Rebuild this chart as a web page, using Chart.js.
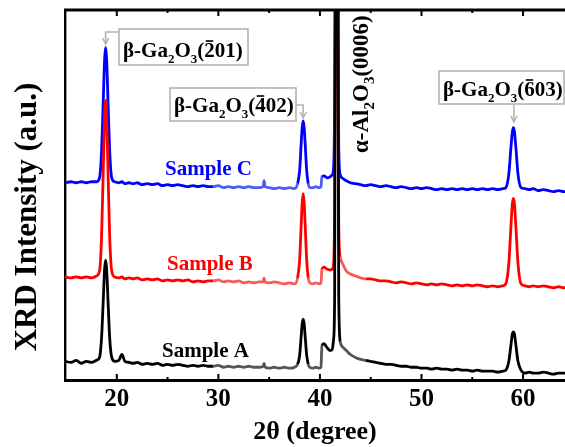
<!DOCTYPE html>
<html>
<head>
<meta charset="utf-8">
<script src="https://cdn.jsdelivr.net/npm/chart.js@4"></script>
<style>
  html, body { margin: 0; padding: 0; background: #fff; overflow: hidden; }
  canvas { display: block; }
</style>
</head>
<body>
<canvas id="xrd" width="565" height="447"></canvas>
<script>
// 2-theta positions (degree), shared by the three scans
const twoTheta = [
  14.9, 15.5, 16.0, 16.5, 17.0, 17.5, 18.0, 18.3, 18.5, 18.65,
  18.8, 18.9, 19.0, 19.15, 19.3, 19.5, 19.8, 20.2, 20.5, 20.8,
  21.2, 21.6, 22.0, 22.5, 23.0, 23.5, 24.0, 24.5, 25.0, 25.5,
  26.0, 26.5, 27.0, 27.5, 28.0, 28.5, 29.0, 29.5, 30.0, 30.5,
  31.0, 31.5, 32.0, 32.5, 33.0, 33.5, 34.0, 34.4, 34.5, 34.6,
  35.0, 35.5, 36.0, 36.5, 37.0, 37.5, 37.8, 38.0, 38.15, 38.25,
  38.35, 38.45, 38.55, 38.7, 38.85, 39.0, 39.3, 39.6, 39.9, 40.1,
  40.2, 40.4, 40.7, 41.0, 41.2, 41.35, 41.45, 41.55, 41.65, 41.75,
  41.85, 42.0, 42.3, 42.6, 43.0, 43.5, 44.0, 44.5, 45.0, 45.5,
  46.0, 46.5, 47.0, 47.5, 48.0, 48.5, 49.0, 49.5, 50.0, 50.5,
  51.0, 51.5, 52.0, 52.5, 53.0, 53.5, 54.0, 54.5, 55.0, 55.5,
  56.0, 56.5, 57.0, 57.5, 58.0, 58.3, 58.6, 58.8, 58.95, 59.05,
  59.15, 59.3, 59.5, 59.8, 60.2, 60.6, 61.0, 61.5, 62.0, 62.5,
  63.0, 63.5, 64.0, 64.5
];

// intensities (a.u., already offset per sample)
const sampleC = [
  201, 202, 201, 202, 201, 202, 202, 206, 233, 279,
  327, 339, 327, 279, 233, 206, 202, 201, 202, 200,
  201, 200, 201, 199, 200, 199, 200, 198, 199, 198,
  199, 198, 197, 198, 197, 198, 197, 197, 198, 196,
  197, 196, 197, 196, 197, 196, 196, 197, 203, 197,
  196, 195, 196, 195, 196, 195, 200, 213, 240, 257,
  264, 257, 240, 213, 200, 196, 196, 197, 196, 197,
  207, 208, 206, 207, 209, 217, 287, 537, 687, 487,
  237, 209, 205, 203, 201, 200, 199, 198, 199, 198,
  197, 198, 197, 196, 197, 196, 195, 196, 195, 196,
  195, 194, 195, 194, 195, 194, 195, 194, 195, 194,
  195, 194, 195, 194, 195, 196, 210, 236, 253, 257,
  253, 236, 210, 196, 195, 194, 195, 193, 194, 193,
  192, 193, 192, 192
];
const sampleB = [
  105, 104, 105, 104, 105, 104, 106, 111, 146, 206,
  269, 285, 269, 206, 146, 111, 105, 104, 105, 103,
  104, 103, 104, 102, 103, 102, 103, 101, 102, 101,
  102, 101, 102, 100, 101, 100, 101, 101, 102, 100,
  101, 100, 101, 99, 100, 99, 100, 100, 104, 100,
  99, 100, 99, 98, 99, 98, 104, 122, 157, 180,
  190, 180, 157, 122, 104, 99, 98, 99, 98, 99,
  113, 115, 113, 112, 113, 119, 187, 487, 637, 437,
  157, 125, 117, 111, 108, 106, 104, 103, 103, 102,
  101, 101, 100, 99, 100, 99, 98, 99, 98, 97,
  98, 97, 98, 97, 96, 97, 96, 97, 96, 97,
  96, 95, 96, 95, 96, 98, 119, 155, 180, 185,
  180, 155, 119, 98, 96, 95, 96, 95, 96, 95,
  94, 95, 94, 95
];
const sampleA = [
  19, 18, 20, 17, 19, 18, 20, 23, 43, 77,
  113, 122, 113, 77, 43, 23, 19, 20, 26, 19,
  18, 17, 18, 16, 17, 16, 17, 15, 16, 15,
  16, 15, 14, 15, 14, 15, 14, 14, 15, 13,
  14, 13, 14, 13, 14, 13, 13, 14, 17, 13,
  12, 13, 12, 13, 12, 13, 16, 25, 44, 57,
  62, 57, 44, 25, 16, 13, 12, 13, 12, 13,
  35, 37, 33, 30, 31, 42, 87, 587, 787, 537,
  87, 39, 33, 30, 26, 23, 21, 20, 19, 18,
  17, 16, 16, 15, 14, 14, 13, 13, 12, 12,
  11, 12, 11, 11, 10, 11, 10, 10, 9, 10,
  9, 9, 9, 8, 9, 10, 19, 35, 47, 49,
  47, 35, 19, 10, 7, 8, 7, 7, 8, 7,
  6, 7, 7, 7
];

const tickValues = [20, 30, 40, 50, 60];
const minorTickValues = [15, 25, 35, 45, 55];
const sampleLabels = ['Sample A', 'Sample B', 'Sample C'];

// parts of the scan drawn in a lighter shade
const lightRanges = [[29.5, 37.8], [38.85, 40.2], [42.0, 44.5]];

const SERIF = '"Liberation Serif", "Times New Roman", serif';

function isLight(x, ranges) {
  return ranges.some(r => x >= r[0] && x < r[1]);
}

function makeSet(label, values, color, light, order, ranges) {
  return {
    label: label,
    data: twoTheta.map((t, i) => ({ x: t, y: values[i] })),
    borderColor: color,
    borderWidth: 2.8,
    pointRadius: 0,
    cubicInterpolationMode: 'monotone',
    order: order,
    segment: {
      borderColor: c => isLight(c.p0.parsed.x, ranges) ? light : color
    }
  };
}

// draws text with subscripts and overbars
function richText(ctx, parts, x, y, size) {
  let cx = x;
  parts.forEach(p => {
    const s = p.sub ? Math.round(size * 0.64) : size;
    ctx.font = 'bold ' + s + 'px ' + SERIF;
    const dy = p.sub ? size * 0.27 : 0;
    ctx.fillText(p.t, cx, y + dy);
    const w = ctx.measureText(p.t).width;
    if (p.bar) ctx.fillRect(cx + 1.5, y - size * 0.8, w - 3, 1.6);
    cx += w;
  });
  return cx - x;
}

function ga2o3(h) {
  return [{t: 'β-Ga'}, {t: '2', sub: true}, {t: 'O'}, {t: '3', sub: true},
          {t: '('}, {t: h[0], bar: true}, {t: h.slice(1) + ')'}];
}

const decorations = {
  id: 'decorations',
  afterDraw(chart) {
    const {ctx, chartArea: a, scales: {x}} = chart;
    ctx.save();

    // top frame line and inward ticks
    ctx.strokeStyle = '#000';
    ctx.lineWidth = 3;
    ctx.beginPath();
    ctx.moveTo(a.left - 1, a.top);
    ctx.lineTo(a.right, a.top);
    ctx.stroke();
    ctx.lineWidth = 2;
    const ticks = tickValues.map(v => [v, 6]).concat(minorTickValues.map(v => [v, 3]));
    ticks.forEach(([v, len]) => {
      const px = x.getPixelForValue(v);
      if (px < a.left + 3 || px > a.right) return;
      ctx.beginPath();
      ctx.moveTo(px, a.bottom);
      ctx.lineTo(px, a.bottom - len);
      ctx.moveTo(px, a.top);
      ctx.lineTo(px, a.top + len);
      ctx.stroke();
    });

    // sample names
    ctx.textBaseline = 'alphabetic';
    ctx.textAlign = 'left';
    ctx.font = 'bold 21px ' + SERIF;
    ctx.fillStyle = '#0000ff';
    ctx.fillText(sampleLabels[2], 165, 175);
    ctx.fillStyle = '#ff0000';
    ctx.fillText(sampleLabels[1], 167, 270);
    ctx.fillStyle = '#000';
    ctx.fillText(sampleLabels[0], 162, 357);

    // peak annotations
    ctx.strokeStyle = '#b4b4b4';
    ctx.lineWidth = 1.6;
    ctx.strokeRect(119, 29, 129, 36);
    ctx.strokeRect(170, 88, 126, 33);
    ctx.strokeRect(439, 71, 125, 33);

    function arrow(pts) {
      ctx.beginPath();
      ctx.moveTo(pts[0][0], pts[0][1]);
      pts.slice(1).forEach(p => ctx.lineTo(p[0], p[1]));
      ctx.stroke();
      const [tx, ty] = pts[pts.length - 1];
      ctx.beginPath();
      ctx.moveTo(tx - 3, ty - 6);
      ctx.lineTo(tx, ty);
      ctx.lineTo(tx + 3, ty - 6);
      ctx.stroke();
    }
    const p201 = x.getPixelForValue(18.9);
    const p402 = x.getPixelForValue(38.35);
    const p603 = x.getPixelForValue(59.1);
    arrow([[119, 32], [p201, 32], [p201, 44]]);
    arrow([[296, 105], [p402, 105], [p402, 118]]);
    arrow([[p603, 104], [p603, 122]]);

    ctx.fillStyle = '#000';
    richText(ctx, ga2o3('201'), 123, 57, 21);
    richText(ctx, ga2o3('402'), 174, 112, 21);
    richText(ctx, ga2o3('603'), 443, 96, 21);

    // substrate peak, rotated
    ctx.save();
    ctx.translate(368, 153);
    ctx.rotate(-Math.PI / 2);
    richText(ctx, [{t: 'α-Al'}, {t: '2', sub: true}, {t: 'O'}, {t: '3', sub: true}, {t: '(0006)'}], 0, 0, 23);
    ctx.restore();

    // y axis title
    ctx.save();
    ctx.translate(28, 217);
    ctx.rotate(-Math.PI / 2);
    ctx.font = 'bold 31px ' + SERIF;
    ctx.textAlign = 'center';
    ctx.textBaseline = 'middle';
    ctx.fillText('XRD Intensity (a.u.)', 0, 0);
    ctx.restore();

    ctx.restore();
  }
};

new Chart(document.getElementById('xrd'), {
  type: 'line',
  data: {
    datasets: [
      makeSet(sampleLabels[0], sampleA, '#000000', 'rgb(85,85,85)', 0, lightRanges),
      makeSet(sampleLabels[1], sampleB, '#ff0000', 'rgb(250,90,90)', 1, lightRanges),
      makeSet(sampleLabels[2], sampleC, '#0000ff', 'rgb(75,95,245)', 2, lightRanges.slice(0, 2))
    ]
  },
  options: {
    responsive: false,
    animation: false,
    devicePixelRatio: 1,
    layout: { padding: { left: 65, top: 10, right: 0, bottom: 2 } },
    plugins: { legend: { display: false }, tooltip: { enabled: false } },
    scales: {
      x: {
        type: 'linear',
        min: 14.9,
        max: 64.13,
        afterBuildTicks: s => { s.ticks = tickValues.map(v => ({ value: v })); },
        grid: { display: false, drawTicks: false },
        border: { display: true, color: '#000', width: 3 },
        ticks: {
          color: '#000',
          padding: 7,
          maxRotation: 0,
          font: { family: SERIF, size: 25, weight: 'bold', lineHeight: 1 }
        },
        title: {
          display: true,
          text: '2θ (degree)',
          color: '#000',
          padding: { top: 0, bottom: 0 },
          font: { family: SERIF, size: 26, weight: 'bold', lineHeight: 1 }
        }
      },
      y: {
        min: 0,
        max: 377,
        grid: { display: false, drawTicks: false },
        border: { display: true, color: '#000', width: 2.4 },
        ticks: { display: false }
      }
    }
  },
  plugins: [decorations]
});
</script>
</body>
</html>
